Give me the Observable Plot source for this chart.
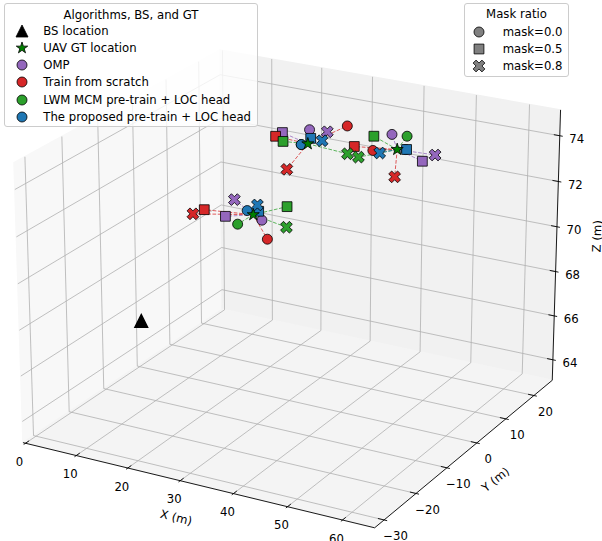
<!DOCTYPE html>
<html>
<head>
<meta charset="utf-8">
<script src="https://cdn.jsdelivr.net/npm/d3@7"></script>
<script src="https://cdn.jsdelivr.net/npm/@observablehq/plot@0.6"></script>
<style>
  body { margin: 0; background: #fff; font-family: "DejaVu Sans", sans-serif; }
  #wrap { position: relative; width: 602px; height: 541px; overflow: hidden; }
  .legend { position: absolute; background: rgba(255,255,255,0.8); border: 1px solid #cccccc; border-radius: 3px;
            font-size: 11.7px; color: #000; box-sizing: border-box; }
  .ltitle { position: absolute; left: 0; width: 100%; text-align: center; line-height: 16px; white-space: nowrap; }
  .lrow { position: absolute; left: 0; height: 0; width: 100%; }
</style>
</head>
<body>
<div id="wrap"></div>
<script>
// ---------------- data ----------------
const algorithms = ["OMP", "Train from scratch", "LWM MCM pre-train + LOC head", "The proposed pre-train + LOC head"];
const algoColors = ["#9467bd", "#d62728", "#2ca02c", "#1f77b4"];
const maskRatios = [0.0, 0.5, 0.8];
const maskLabels = ["mask=0.0", "mask=0.5", "mask=0.8"];

const bsLocation = [0, 0.7, 65.1];
const uavGT = [[17.6, 8.6, 70.0], [25.0, 14.0, 73.0], [39.7, 18.4, 73.0]];

// estimates per UAV: [mask=0.0, mask=0.5, mask=0.8], each [x, y, z]
const ompEst = [
  [[20.2, 7.2, 70.0], [13.8, 5.9, 70.0], [11.1, 12.9, 70.0]],
  [[21.8, 19.8, 73.0], [18.4, 16.6, 73.0], [25.0, 20.3, 73.0]],
  [[35.4, 24.1, 73.0], [46.1, 15.6, 73.0], [46.6, 19.0, 73.0]]
];
const scratchEst = [
  [[25.4, 0.6, 70.0], [9.0, 6.8, 70.0], [8.3, 4.4, 70.0]],
  [[26.6, 24.2, 73.0], [18.3, 14.6, 73.0], [28.0, 2.5, 73.0]],
  [[36.3, 16.2, 73.0], [32.6, 16.4, 73.0], [45.5, 7.5, 73.0]]
];
const lwmEst = [
  [[17.5, 3.9, 70.0], [20.8, 14.2, 70.0], [25.5, 6.4, 70.0]],
  [[24.2, 13.2, 73.0], [20.7, 13.1, 73.0], [33.3, 13.0, 73.0]],
  [[38.1, 24.5, 73.0], [33.1, 22.0, 73.0], [35.7, 12.5, 73.0]]
];
const proposedEst = [
  [[15.7, 9.7, 70.0], [17.6, 10.3, 70.0], [15.9, 12.6, 70.0]],
  [[24.2, 13.2, 73.0], [24.1, 16.4, 73.0], [26.4, 16.3, 73.0]],
  [[41.0, 19.0, 73.0], [41.1, 19.1, 73.0], [37.9, 15.7, 73.0]]
];
const estimatesByAlgo = [ompEst, scratchEst, lwmEst, proposedEst];

const xTicks = [0, 10, 20, 30, 40, 50, 60];
const yTicks = [-30, -20, -10, 0, 10, 20];
const zTicks = [64, 66, 68, 70, 72, 74];
const XLIM = [-0.5, 65.77], YLIM = [-32.9, 26.7], ZLIM = [63.06, 75.12];

// ---------------- 3D view (matplotlib-like perspective) ----------------
const ELEV = 22, AZIM = -61, DIST = 10;
const CX = 292.5, CY = 275, S = 3460;
const boxAspect = (() => { const a = [4, 4, 3]; const n = Math.hypot(...a); return a.map(v => v * 1.8294640721620434 / n); })();
const er = ELEV * Math.PI / 180, ar = AZIM * Math.PI / 180;
const W = [Math.cos(er) * Math.cos(ar), Math.cos(er) * Math.sin(ar), Math.sin(er)];
const U = [-Math.sin(ar), Math.cos(ar), 0];
const V = [-Math.sin(er) * Math.cos(ar), -Math.sin(er) * Math.sin(ar), Math.cos(er)];
const dot3 = (A, B) => A[0] * B[0] + A[1] * B[1] + A[2] * B[2];
function proj(p) {
  const lims = [XLIM, YLIM, ZLIM];
  const q = p.map((v, i) => (v - lims[i][0]) / (lims[i][1] - lims[i][0]) * boxAspect[i] - boxAspect[i] / 2);
  const D = DIST - dot3(W, q);
  return [dot3(U, q) / D, dot3(V, q) / D];
}
function seg(a, b) { const [x1, y1] = proj(a), [x2, y2] = proj(b); return {x1, y1, x2, y2}; }

const [x0, x1] = XLIM, [y0, y1] = YLIM, [z0, z1] = ZLIM;
const rx = x1 - x0, ry = y1 - y0;

const xPane = [[x0, y0, z0], [x0, y1, z0], [x0, y1, z1], [x0, y0, z1], [x0, y0, z0]].map(proj);
const yPane = [[x0, y1, z0], [x1, y1, z0], [x1, y1, z1], [x0, y1, z1], [x0, y1, z0]].map(proj);
const zPane = [[x0, y0, z0], [x1, y0, z0], [x1, y1, z0], [x0, y1, z0], [x0, y0, z0]].map(proj);

const grid = [];
xTicks.forEach(t => { grid.push(seg([t, y0, z0], [t, y1, z0])); grid.push(seg([t, y1, z0], [t, y1, z1])); });
yTicks.forEach(t => { grid.push(seg([x0, t, z0], [x1, t, z0])); grid.push(seg([x0, t, z0], [x0, t, z1])); });
zTicks.forEach(t => { grid.push(seg([x0, y0, t], [x0, y1, t])); grid.push(seg([x0, y1, t], [x1, y1, t])); });

const axisLines = [seg([x0, y0, z0], [x1, y0, z0]), seg([x1, y0, z0], [x1, y1, z0]), seg([x1, y1, z0], [x1, y1, z1])];
const tickMarks = [
  ...xTicks.map(t => seg([t, y0 - ry / 120, z0], [t, y0 + ry / 60, z0])),
  ...yTicks.map(t => seg([x1 + rx / 120, t, z0], [x1 - rx / 60, t, z0])),
  ...zTicks.map(t => seg([x1 + rx / 120, y1, t], [x1 - rx / 60, y1, t]))
];
const fmt = t => String(t).replace("-", "\u2212");
const xLab = xTicks.map(t => { const [px, py] = proj([t, y0, z0]); return {px, py, s: fmt(t)}; });
const yLab = yTicks.map(t => { const [px, py] = proj([x1, t, z0]); return {px, py, s: fmt(t)}; });
const zLab = zTicks.map(t => { const [px, py] = proj([x1, y1, t]); return {px, py, s: fmt(t)}; });
const xMid = proj([(x0 + x1) / 2, y0, z0]), yMid = proj([x1, (y0 + y1) / 2, z0]), zMid = proj([x1, y1, (z0 + z1) / 2]);

// ---------------- symbols ----------------
const sqSym = {draw(ctx, size) { const r = Math.sqrt(size / Math.PI); ctx.rect(-r, -r, 2 * r, 2 * r); }};
const xSym = {draw(ctx, size) {
  const L = Math.sqrt(size / Math.PI) * 1.25, a = L / 3, c = Math.SQRT1_2;
  const pts = [[-a, -L], [a, -L], [a, -a], [L, -a], [L, a], [a, a], [a, L], [-a, L], [-a, a], [-L, a], [-L, -a], [-a, -a]];
  pts.forEach(([x, y], i) => { const X = (x - y) * c, Y = (x + y) * c; i ? ctx.lineTo(X, Y) : ctx.moveTo(X, Y); });
  ctx.closePath();
}};
const triSym = {draw(ctx, size) { const r = Math.sqrt(size / Math.PI); ctx.moveTo(0, -r); ctx.lineTo(r, r); ctx.lineTo(-r, r); ctx.closePath(); }};
const maskSymbols = [d3.symbolCircle, sqSym, xSym];
const maskR = [5, 4.9, 5];

// ---------------- marks ----------------
const links = [], dots = [];
estimatesByAlgo.forEach((est, ai) => {
  const rows = [];
  est.forEach((uavRows, ui) => uavRows.forEach((p, mi) => {
    const [gx, gy] = proj(uavGT[ui]); const [ex, ey] = proj(p);
    rows.push({gx, gy, ex, ey, mi});
  }));
  links.push(Plot.link(rows, {x1: "gx", y1: "gy", x2: "ex", y2: "ey", stroke: algoColors[ai], strokeWidth: 1,
    strokeDasharray: "3.7,1.6", strokeOpacity: 0.75}));
  maskRatios.forEach((m, mi) => {
    dots.push(Plot.dot(rows.filter(r => r.mi === mi), {x: "ex", y: "ey", symbol: maskSymbols[mi], r: maskR[mi],
      fill: algoColors[ai], stroke: "black", strokeWidth: 0.8}));
  });
});

const gtPts = uavGT.map(proj);
const bsPt = [proj(bsLocation)];

const chart = Plot.plot({
  width: 602, height: 541, margin: 0,
  x: {domain: [-0.1, 0.1], range: [CX - S * 0.1, CX + S * 0.1], axis: null},
  y: {domain: [-0.1, 0.1], range: [CY + S * 0.1, CY - S * 0.1], axis: null},
  style: {fontFamily: "DejaVu Sans, sans-serif", fontSize: "11.7px", background: "transparent"},
  marks: [
    Plot.line(xPane, {x: d => d[0], y: d => d[1], fill: "#f8f8f8", stroke: "#f8f8f8"}),
    Plot.line(yPane, {x: d => d[0], y: d => d[1], fill: "#f1f1f1", stroke: "#f1f1f1"}),
    Plot.line(zPane, {x: d => d[0], y: d => d[1], fill: "#f4f4f4", stroke: "#f4f4f4"}),
    Plot.link(grid, {x1: "x1", y1: "y1", x2: "x2", y2: "y2", stroke: "#b0b0b0", strokeWidth: 0.8}),
    Plot.link(axisLines, {x1: "x1", y1: "y1", x2: "x2", y2: "y2", stroke: "#000", strokeWidth: 0.9}),
    Plot.link(tickMarks, {x1: "x1", y1: "y1", x2: "x2", y2: "y2", stroke: "#000", strokeWidth: 0.9}),
    Plot.text(xLab, {x: "px", y: "py", text: "s", dx: -6, dy: 18.8, fontSize: 11.7, fill: "#000"}),
    Plot.text(yLab, {x: "px", y: "py", text: "s", dx: 11.5, dy: 16.6, fontSize: 11.7, fill: "#000"}),
    Plot.text(zLab, {x: "px", y: "py", text: "s", dx: 17, dy: 3.7, fontSize: 11.7, fill: "#000"}),
    Plot.text([xMid], {x: d => d[0], y: d => d[1], text: () => "X (m)", dx: -18, dy: 33.7, rotate: 13.7, fontSize: 11.7, fill: "#000"}),
    Plot.text([yMid], {x: d => d[0], y: d => d[1], text: () => "Y (m)", dx: 28, dy: 29.2, rotate: -38.7, fontSize: 11.7, fill: "#000"}),
    Plot.text([zMid], {x: d => d[0], y: d => d[1], text: () => "Z (m)", dx: 41, dy: -11, rotate: -88.3, fontSize: 11.7, fill: "#000"}),
    Plot.dot(bsPt, {x: d => d[0], y: d => d[1], symbol: triSym, r: 6.3, fill: "black", stroke: "black"}),
    ...links,
    ...dots,
    Plot.dot(gtPts, {x: d => d[0], y: d => d[1], symbol: "star", r: 3.8, fill: "#008000", stroke: "black", strokeWidth: 0.8})
  ]
});
const wrap = document.getElementById("wrap");
wrap.appendChild(chart);

// ---------------- legends ----------------
function symPath(sym, r) { return d3.symbol(sym, Math.PI * r * r)(); }
function makeLegend(o) {
  const box = document.createElement("div");
  box.className = "legend";
  Object.assign(box.style, {left: o.left + "px", top: o.top + "px", width: o.width + "px", height: o.height + "px"});
  const t = document.createElement("div");
  t.className = "ltitle"; t.style.top = (o.titleY - 8) + "px"; t.textContent = o.title;
  box.appendChild(t);
  o.rows.forEach((row, i) => {
    const r = document.createElement("div");
    r.className = "lrow"; r.style.top = (o.rowY + i * o.rowStep) + "px";
    r.innerHTML = `<svg width="16" height="16" style="position:absolute;left:${o.markerX - 8}px;top:-8px;overflow:visible">` +
      `<path transform="translate(8,8)" d="${symPath(row.sym, row.r)}" fill="${row.fill}" stroke="black" stroke-width="0.8"/></svg>` +
      `<span style="position:absolute;left:${o.textX}px;top:-8px;line-height:16px;white-space:nowrap">${row.label}</span>`;
    box.appendChild(r);
  });
  wrap.appendChild(box);
}
makeLegend({
  left: 4, top: 3, width: 254, height: 124, title: "Algorithms, BS, and GT", titleY: 11,
  rowY: 27, rowStep: 17.15, markerX: 16.7, textX: 38.3,
  rows: [
    {sym: triSym, r: 6, fill: "black", label: "BS location"},
    {sym: d3.symbolStar, r: 3.6, fill: "#008000", label: "UAV GT location"},
    ...algorithms.map((a, i) => ({sym: d3.symbolCircle, r: 5, fill: algoColors[i], label: a}))
  ]
});
makeLegend({
  left: 464, top: 3, width: 105, height: 74, title: "Mask ratio", titleY: 10,
  rowY: 28.3, rowStep: 16.9, markerX: 14, textX: 37.7,
  rows: maskLabels.map((m, i) => ({sym: maskSymbols[i], r: maskR[i], fill: "#808080", label: m}))
});
</script>
</body>
</html>
